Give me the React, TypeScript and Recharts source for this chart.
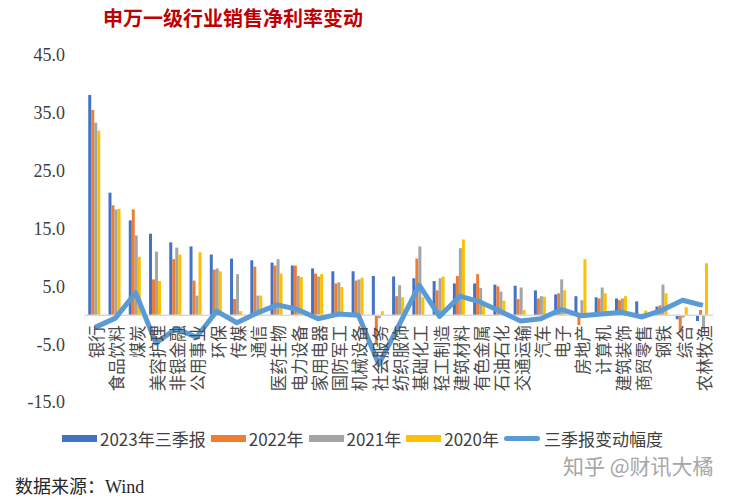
import { ComposedChart, Bar, Line, XAxis, YAxis, ReferenceLine } from 'recharts';

const categories = [
  '银行', '食品饮料', '煤炭', '美容护理', '非银金融', '公用事业', '环保', '传媒',
  '通信', '医药生物', '电力设备', '家用电器', '国防军工', '机械设备', '社会服务', '纺织服饰',
  '基础化工', '轻工制造', '建筑材料', '有色金属', '石油石化', '交通运输', '汽车', '电子',
  '房地产', '计算机', '建筑装饰', '商贸零售', '钢铁', '综合', '农林牧渔',
];

const q3of2023 = [
  38.1, 21.2, 16.4, 14.1, 12.6, 11.9, 10.5, 9.8,
  9.5, 9.1, 8.6, 8.1, 7.6, 7.6, 6.8, 6.7,
  6.4, 5.9, 5.5, 5.5, 5.3, 5.1, 4.3, 3.6,
  3.3, 3.1, 2.9, 2.4, 1.5, -0.7, -1.0,
];
const year2022 = [
  35.5, 19.0, 18.3, 6.2, 9.7, 6.0, 7.9, 2.8,
  8.4, 8.6, 8.6, 7.2, 5.5, 6.0, -5.0, 3.3,
  9.8, 4.3, 6.8, 7.1, 5.0, 2.8, 2.9, 3.8,
  -1.7, 2.9, 2.6, 0.1, 1.7, -3.0, 0.9,
];
const year2021 = [
  33.3, 18.3, 13.8, 11.0, 11.7, 3.4, 8.1, 7.1,
  3.4, 9.7, 6.8, 6.7, 5.7, 6.2, -0.5, 5.2,
  11.9, 6.4, 11.6, 4.7, 4.1, 4.8, 3.3, 6.2,
  2.6, 4.8, 2.9, 0.3, 5.3, -0.4, -2.5,
];
const year2020 = [
  31.9, 18.4, 10.1, 5.9, 10.5, 10.9, 7.6, 0.7,
  3.4, 7.2, 6.6, 7.1, 4.9, 6.5, 0.7, 3.1,
  3.1, 6.7, 13.1, 2.2, 2.5, 0.9, 3.2, 4.3,
  9.7, 3.8, 3.3, 0.8, 3.8, 1.4, 9.0,
];
const q3Change = [
  -2.1, -0.5, 3.9, -4.8, -2.3, -3.8, 0.7, -1.3,
  0.4, 1.8, 1.0, -0.6, 0.2, 0.0, -8.5, -1.7,
  5.2, -0.2, 3.3, 2.3, 0.7, -1.0, -0.6, 1.0,
  -0.1, 0.2, 0.5, -0.3, 0.9, 2.6, 1.7,
];

const yTicks = [-15, -5, 5, 15, 25, 35, 45];

const SERIES = [
  { key: 'q3of2023', name: '2023年三季报', color: '#4472C4' },
  { key: 'year2022', name: '2022年', color: '#ED7D31' },
  { key: 'year2021', name: '2021年', color: '#A5A5A5' },
  { key: 'year2020', name: '2020年', color: '#FFC000' },
];
const LINE_COLOR = '#5B9BD5';

const rows = categories.map((name, i) => ({
  name,
  q3of2023: q3of2023[i],
  year2022: year2022[i],
  year2021: year2021[i],
  year2020: year2020[i],
  q3Change: q3Change[i],
}));

const W = 738;
const H = 502;
const X_AXIS_H = 30;
const MARGIN = { top: 55, right: 25, bottom: 70, left: 0 };
const Y_MIN = -15;
const Y_MAX = 45;
const PLOT_H = H - MARGIN.top - MARGIN.bottom - X_AXIS_H;
// labels hang from the zero line, not from the bottom of the plot
const ZERO_ABOVE_BOTTOM = (PLOT_H * (0 - Y_MIN)) / (Y_MAX - Y_MIN);

const CJK = '"Noto Sans CJK SC", "Noto Sans", sans-serif';

function CategoryTick({ x, y, payload }: any) {
  const ty = y - ZERO_ABOVE_BOTTOM + 10;
  return (
    <text
      x={x + 1}
      y={ty}
      transform={`rotate(-90 ${x + 1} ${ty})`}
      textAnchor="end"
      dominantBaseline="central"
      fontSize={16.5}
      fontFamily={CJK}
      fill="#4a4a4a"
    >
      {payload.value}
    </text>
  );
}

function LegendRow() {
  return (
    <div
      style={{
        position: 'absolute',
        left: 62,
        top: 426,
        display: 'flex',
        alignItems: 'center',
        fontFamily: CJK,
        fontSize: 17,
        color: '#404040',
        whiteSpace: 'nowrap',
      }}
    >
      {SERIES.map(s => (
        <div key={s.key} style={{ display: 'flex', alignItems: 'center', marginRight: 5 }}>
          <span style={{ width: 35, height: 7, background: s.color, marginRight: 3 }} />
          <span>{s.name}</span>
        </div>
      ))}
      <div style={{ display: 'flex', alignItems: 'center' }}>
        <span style={{ width: 36, height: 5, borderRadius: 3, background: LINE_COLOR, marginRight: 4 }} />
        <span>三季报变动幅度</span>
      </div>
    </div>
  );
}

export default function App() {
  return (
    <div style={{ position: 'absolute', left: 0, top: 0, width: W, height: H, background: '#fff', overflow: 'hidden' }}>
      <div
        style={{
          position: 'absolute',
          left: 103,
          top: 5,
          fontFamily: CJK,
          fontSize: 20,
          fontWeight: 700,
          color: '#C00000',
          lineHeight: '26px',
        }}
      >
        申万一级行业销售净利率变动
      </div>

      <ComposedChart
        width={W}
        height={H}
        data={rows}
        margin={MARGIN}
        barCategoryGap="16%"
        barGap={0}
      >
        <XAxis
          dataKey="name"
          interval={0}
          height={X_AXIS_H}
          axisLine={false}
          tickLine={false}
          tickSize={0}
          tickMargin={0}
          tick={<CategoryTick />}
        />
        <YAxis
          width={85}
          domain={[Y_MIN, Y_MAX]}
          ticks={yTicks}
          interval={0}
          axisLine={false}
          tickLine={false}
          tickSize={0}
          tickMargin={20}
          tickFormatter={(v: number) => v.toFixed(1)}
          tick={{ fontSize: 18, fontFamily: '"Liberation Serif", serif', fill: '#404040' }}
        />
        <ReferenceLine y={0} stroke="#D9D9D9" strokeWidth={1.5} />
        {SERIES.map(s => (
          <Bar key={s.key} dataKey={s.key} name={s.name} fill={s.color} isAnimationActive={false} />
        ))}
        <Line
          type="linear"
          dataKey="q3Change"
          name="三季报变动幅度"
          stroke={LINE_COLOR}
          strokeWidth={5}
          strokeLinejoin="round"
          dot={false}
          activeDot={false}
          isAnimationActive={false}
        />
      </ComposedChart>

      <LegendRow />

      <div
        style={{
          position: 'absolute',
          left: 15,
          top: 472,
          fontFamily: '"Liberation Serif", ' + CJK,
          fontSize: 18,
          color: '#262626',
        }}
      >
        数据来源：Wind
      </div>
      <div
        style={{
          position: 'absolute',
          left: 563,
          top: 450,
          fontFamily: CJK,
          fontSize: 21,
          color: '#A6A6A6',
        }}
      >
        知乎 @财讯大橘
      </div>
    </div>
  );
}
